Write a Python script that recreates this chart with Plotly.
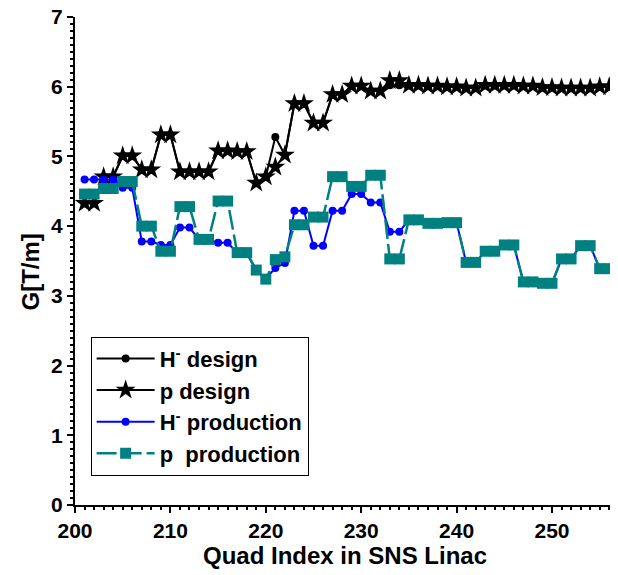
import plotly.graph_objects as go

quad = list(range(201, 258))

p_design = [4.33, 4.33, 4.71, 4.71, 5.01, 5.01, 4.81, 4.81, 5.31, 5.31,
            4.78, 4.78, 4.78, 4.78, 5.08, 5.08, 5.07, 5.07, 4.62, 4.71,
            4.85, 5.02, 5.76, 5.76, 5.48, 5.48, 5.89, 5.89, 6.01, 6.01,
            5.94, 5.94, 6.09, 6.09, 6.02, 6.02, 6.01, 6.01, 6.00, 6.00,
            5.98, 5.98, 6.02, 6.02, 6.02, 6.02, 6.01, 6.01, 5.99, 5.99,
            5.98, 5.98, 5.98, 5.98, 6.00, 6.00, 5.96]

h_design = [4.33, 4.33, 4.71, 4.71, 5.01, 5.01, 4.81, 4.81, 5.31, 5.31,
            4.78, 4.78, 4.78, 4.78, 5.08, 5.08, 5.07, 5.07, 4.62, 4.71,
            5.28, 5.02, 5.76, 5.76, 5.48, 5.48, 5.89, 5.89, 6.01, 6.01,
            5.94, 5.94, 6.02, 6.02, 6.02, 6.02, 6.01, 6.01, 6.00, 6.00,
            5.98, 5.98, 6.02, 6.02, 6.02, 6.02, 6.01, 6.01, 5.99, 5.99,
            5.98, 5.98, 5.98, 5.98, 6.00, 6.00, 5.96]

p_prod = [4.46, 4.46, 4.54, 4.54, 4.64, 4.64, 4.00, 4.00, 3.64, 3.64,
          4.28, 4.28, 3.81, 3.81, 4.36, 4.36, 3.62, 3.62, 3.37, 3.24,
          3.52, 3.56, 4.02, 4.02, 4.13, 4.13, 4.71, 4.71, 4.57, 4.57,
          4.73, 4.73, 3.53, 3.53, 4.09, 4.09, 4.04, 4.04, 4.05, 4.05,
          3.48, 3.48, 3.64, 3.64, 3.73, 3.73, 3.20, 3.20, 3.18, 3.18,
          3.53, 3.53, 3.72, 3.72, 3.39, 3.39, 3.71]

h_prod = [4.67, 4.67, 4.67, 4.67, 4.55, 4.55, 3.78, 3.78, 3.73, 3.73,
          3.98, 3.98, 3.81, 3.81, 3.76, 3.76, 3.62, 3.62, 3.36, 3.25,
          3.40, 3.47, 4.22, 4.22, 3.72, 3.72, 4.22, 4.22, 4.46, 4.46,
          4.34, 4.34, 3.92, 3.92, 4.09, 4.09, 4.04, 4.04, 4.05, 4.05,
          3.48, 3.48, 3.64, 3.64, 3.73, 3.73, 3.20, 3.20, 3.18, 3.18,
          3.53, 3.53, 3.72, 3.72, 3.39, 3.39, 3.71]

x_title = "Quad Index in SNS Linac"
y_title = "G[T/m]"

FONT = "Liberation Sans, Arial, sans-serif"

fig = go.Figure()
fig.add_trace(go.Scatter(x=quad, y=h_design, mode="lines+markers",
                         name="H<sup>-</sup> design",
                         line=dict(color="black", width=2),
                         marker=dict(symbol="circle", size=8, color="black")))
fig.add_trace(go.Scatter(x=quad, y=p_design, mode="lines+markers",
                         name="p design",
                         line=dict(color="black", width=2),
                         marker=dict(symbol="star", size=15, color="black")))
fig.add_trace(go.Scatter(x=quad, y=h_prod, mode="lines+markers",
                         name="H<sup>-</sup> production",
                         line=dict(color="#0000FF", width=2),
                         marker=dict(symbol="circle", size=8, color="#0000FF")))
fig.add_trace(go.Scatter(x=quad, y=p_prod, mode="lines+markers",
                         name="p\u00a0 production",
                         line=dict(color="#008080", width=2.5, dash="20px,5px"),
                         marker=dict(symbol="square", size=11, color="#008080")))

# page body has an 8px margin; margins below are offset to compensate
fig.update_layout(
    width=610, height=567,
    margin=dict(l=67, r=4, t=9, b=70, autoexpand=False),
    paper_bgcolor="white", plot_bgcolor="white",
    font=dict(family=FONT, color="black"),
    showlegend=True,
    legend=dict(x=0.029, y=0.345, xanchor="left", yanchor="top",
                bordercolor="black", borderwidth=1, bgcolor="white",
                font=dict(family=FONT, size=22, weight="bold", color="black"),
                itemwidth=58, tracegroupgap=0),
    annotations=[
        dict(text=x_title, xref="paper", yref="paper", x=0.5, y=-0.103,
             xanchor="center", yanchor="middle", showarrow=False,
             font=dict(family=FONT, size=24, weight="bold", color="black")),
        dict(text=y_title, xref="paper", yref="paper", x=-0.083, y=0.477,
             xanchor="center", yanchor="middle", showarrow=False, textangle=-90,
             font=dict(family=FONT, size=24, weight="bold", color="black")),
    ],
)
fig.update_xaxes(range=[200, 256.5], showgrid=False, zeroline=False, automargin=False,
                 showline=True, linecolor="black", linewidth=2,
                 ticks="outside", ticklen=6, tickwidth=2, tickcolor="black",
                 tick0=200, dtick=10, ticklabeloverflow="allow",
                 minor=dict(ticks="outside", ticklen=3, tickwidth=1.5,
                            tickcolor="black", dtick=1, showgrid=False),
                 tickfont=dict(family=FONT, size=21, weight="bold"))
fig.update_yaxes(range=[0, 7], showgrid=False, zeroline=False, automargin=False,
                 showline=True, linecolor="black", linewidth=2,
                 ticks="outside", ticklen=6, tickwidth=2, tickcolor="black",
                 tick0=0, dtick=1, ticklabeloverflow="allow",
                 minor=dict(ticks="outside", ticklen=3, tickwidth=1.5,
                            tickcolor="black", dtick=0.1, showgrid=False),
                 tickfont=dict(family=FONT, size=21, weight="bold"))

fig.write_html("out.html")
